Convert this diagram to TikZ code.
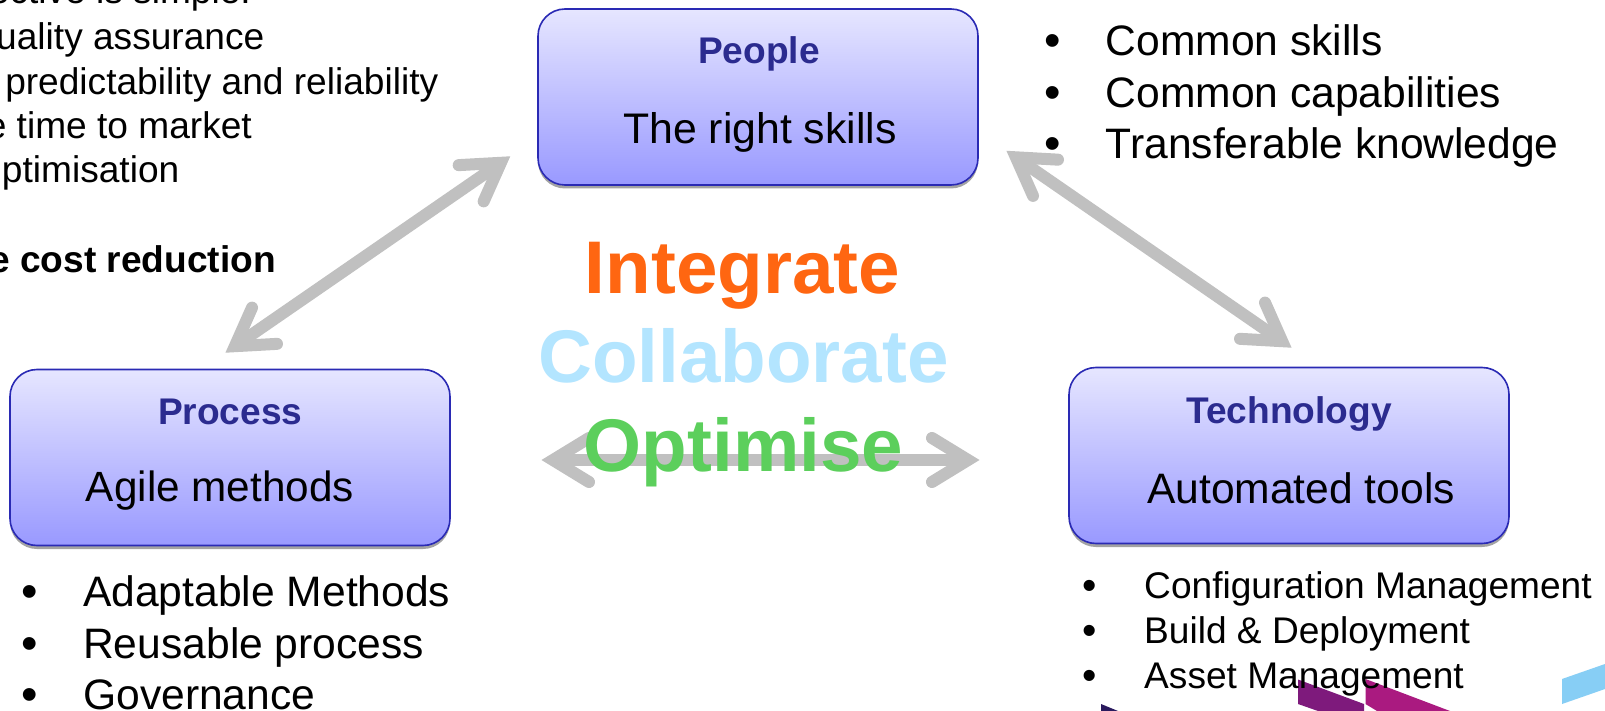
\documentclass[tikz,border=0pt]{standalone}
\usepackage{fontspec}
\setmainfont{Liberation Sans}
\usetikzlibrary{arrows.meta,shadows}
\pgfdeclarearrow{
  name=GBarb,
  setup code={
    \pgfarrowssettipend{0pt}
    \pgfarrowssetlineend{-14pt}
    \pgfarrowssetvisualbackend{-48pt}
    \pgfarrowssetbackend{-48pt}
    \pgfarrowshullpoint{0pt}{0pt}
    \pgfarrowshullpoint{-48pt}{24pt}
    \pgfarrowshullpoint{-48pt}{-24pt}
  },
  drawing code={
    \pgfsetroundcap
    \pgfsetmiterjoin
    \pgfsetmiterlimit{10}
    \pgfpathmoveto{\pgfqpoint{-48pt}{22pt}}
    \pgfpathlineto{\pgfqpoint{-12pt}{0pt}}
    \pgfpathlineto{\pgfqpoint{-48pt}{-22pt}}
    \pgfusepathqstroke
  }
}
\definecolor{linkgray}{HTML}{C0C0C0}
\definecolor{boxline}{HTML}{2A2AB4}
\definecolor{boxtop}{HTML}{E6E6FF}
\definecolor{boxbot}{HTML}{9999FF}
\definecolor{boxhead}{HTML}{2B2B8F}
\definecolor{orangeword}{HTML}{FF6611}
\definecolor{blueword}{HTML}{B3E5FF}
\definecolor{greenword}{HTML}{5CCF5C}
\definecolor{navypiece}{RGB}{42,26,94}
\definecolor{purplepiece}{RGB}{126,26,124}
\definecolor{magentapiece}{RGB}{170,26,128}
\definecolor{skypiece}{RGB}{135,206,245}
\tikzset{
  x=1pt,y=-1pt,
  panel/.style={draw=boxline,line width=1.6pt,rounded corners=27pt,minimum width=440pt,minimum height=176pt,
    top color=boxtop,bottom color=boxbot,inner sep=0pt,
    drop shadow={shadow xshift=0pt,shadow yshift=-3.5pt,fill=black!45,opacity=0.8}},
  link/.style={draw=linkgray,line width=12pt,GBarb-GBarb},
  head/.style={font=\fontsize{37.1}{44}\selectfont\bfseries,text=boxhead,anchor=base,inner sep=0pt},
  body/.style={font=\fontsize{42.8}{50}\selectfont,anchor=base,inner sep=0pt},
  big/.style={font=\fontsize{74.6}{80}\selectfont\bfseries,anchor=base,inner sep=0pt},
  leftline/.style={font=\fontsize{37.1}{44}\selectfont,anchor=base east,inner sep=0pt},
  item/.style={font=\fontsize{42.6}{50}\selectfont,anchor=base west,inner sep=0pt},
  itemsm/.style={font=\fontsize{37.1}{44}\selectfont,anchor=base west,inner sep=0pt},
  dot/.style={font=\fontsize{47}{50}\selectfont,anchor=base,inner sep=0pt},
  dotsm/.style={font=\fontsize{41}{44}\selectfont,anchor=base,inner sep=0pt}
}
\begin{document}
\begin{tikzpicture}
\useasboundingbox (0,0) rectangle (1605,711);
\clip (0,0) rectangle (1605,711);
\fill[white] (0,0) rectangle (1605,711);
% decorative fragments
\fill[navypiece] (1101,704) -- (1118,711) -- (1101,711) -- cycle;
\fill[purplepiece] (1298,679.5) -- (1364,704) -- (1364,711) -- (1318,711) -- (1298,704) -- cycle;
\fill[magentapiece] (1365.5,679) -- (1450,711) -- (1377,711) -- (1365.5,704) -- cycle;
\fill[skypiece] (1562,679) -- (1605,664) -- (1605,689) -- (1562,704) -- cycle;
% boxes
\node[panel] (people) at (758,97) {};
\node[panel] (process) at (230,457.5) {};
\node[panel] (tech) at (1289,455.5) {};
% link ends
\coordinate (a1) at (225,353);
\coordinate (a2) at (510.7,156);
\coordinate (b1) at (1006,150.5);
\coordinate (b2) at (1292,348);
\coordinate (c1) at (541,460);
\coordinate (c2) at (980,460);
\draw[link] (a1) -- (a2);
\draw[link] (b1) -- (b2);
\draw[link] (c1) -- (c2);
% box text
\node[head] (t1) at (759,63.5) {People};
\node[body] (t2) at (760,143.5) {The right skills};
\node[head] (t3) at (230.3,424.8) {Process};
\node[body,font=\fontsize{42.3}{50}\selectfont] (t4) at (220,501.2) {Agile methods};
\node[head] (t5) at (1289,423.2) {Technology};
\node[body,font=\fontsize{42.6}{50}\selectfont] (t6) at (1301,503.6) {Automated tools};
% centre words
\node[big,text=orangeword] (w1) at (742.5,293) {Integrate};
\node[big,text=blueword] (w2) at (743.5,382) {Collaborate};
\node[big,text=greenword] (w3) at (743.5,471) {Optimise};
% top-left text
\node[leftline] (l1) at (251,4) {ective is simple:};
\node[leftline] (l2) at (264.5,50) {uality assurance};
\node[leftline] (l3) at (438.5,95) {predictability and reliability};
\node[leftline] (l4) at (252,139) {e time to market};
\node[leftline] (l5) at (179.5,183) {ptimisation};
\node[leftline,font=\fontsize{37.1}{44}\selectfont\bfseries] (l6) at (276,272.7) {e cost reduction};
% top-right list
\node[dot] (d1) at (1053,56.5) {•};
\node[item] (r1) at (1105.5,55.3) {Common skills};
\node[dot] (d2) at (1053,108.5) {•};
\node[item] (r2) at (1105.5,107.5) {Common capabilities};
\node[dot] (d3) at (1053,160) {•};
\node[item] (r3) at (1105.5,158.7) {Transferable knowledge};
% bottom-left list
\node[dot] (d4) at (30,607) {•};
\node[item] (s1) at (83,606) {Adaptable Methods};
\node[dot] (d5) at (30,659) {•};
\node[item] (s2) at (83,658) {Reusable process};
\node[dot] (d6) at (30,710) {•};
\node[item] (s3) at (83,709) {Governance};
% bottom-right list
\node[dotsm] (d7) at (1090,599) {•};
\node[itemsm] (u1) at (1144,598) {Configuration Management};
\node[dotsm] (d8) at (1090,644) {•};
\node[itemsm] (u2) at (1144,643) {Build \& Deployment};
\node[dotsm] (d9) at (1090,689) {•};
\node[itemsm] (u3) at (1144,688) {Asset Management};
\end{tikzpicture}
\end{document}
